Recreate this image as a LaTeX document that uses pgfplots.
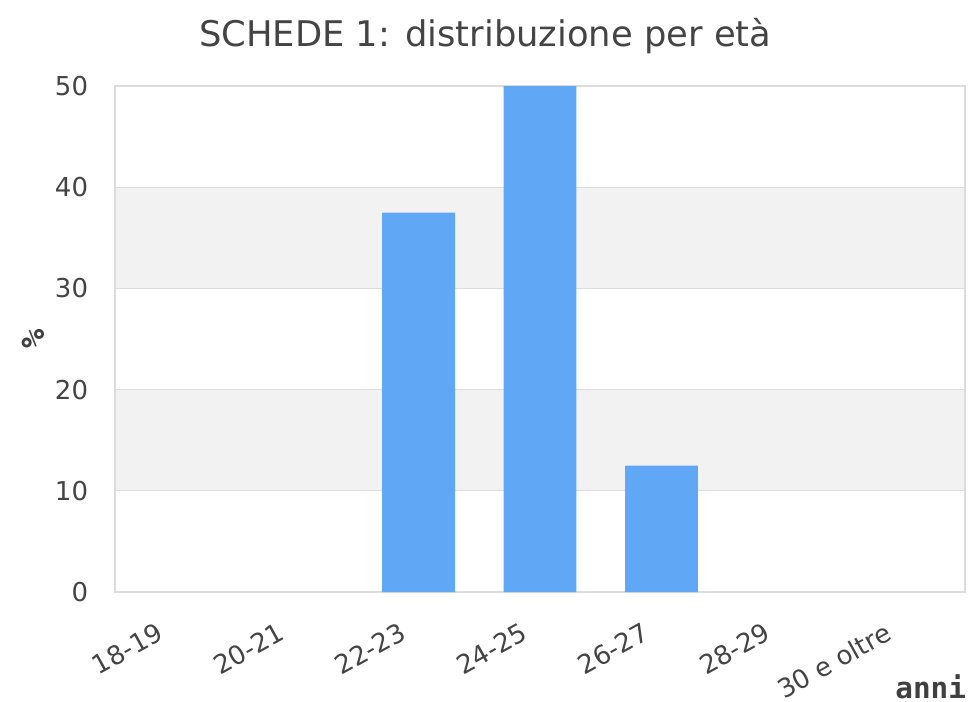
\documentclass[border=0pt]{standalone}
\usepackage{pgfplots}
\pgfplotsset{compat=1.18}
\usepackage{fontspec}
\setmainfont{DejaVu Sans}
\newfontfamily\monofont{DejaVu Sans Mono}
\definecolor{barblue}{HTML}{60A8F5}
\definecolor{band}{HTML}{F2F2F2}
\definecolor{gridc}{HTML}{DCDCDC}
\definecolor{txt}{HTML}{444444}
\begin{document}
\begin{tikzpicture}
\begin{axis}[
  set layers,
  at={(86.25pt,-444pt)}, anchor=south west,
  scale only axis, width=637.5pt, height=379.5pt,
  xmin=-0.5, xmax=6.5, ymin=0, ymax=50,
  xtick={0,1,2,3,4,5,6},
  xticklabels={18-19,20-21,22-23,24-25,26-27,28-29,30 e oltre},
  ytick={0,10,20,30,40,50},
  major tick length=0pt,
  ymajorgrids, grid style={gridc, line width=0.9pt},
  axis line style={gridc, line width=1.2pt},
  /pgf/number format/assume math mode=true,
  tick label style={font=\fontsize{19.5}{23}\selectfont, text=txt, inner sep=0pt},
  xticklabel style={xshift=-15pt, yshift=-22pt, rotate=29, anchor=north east},
  yticklabel style={anchor=east, xshift=-20pt},
  title={SCHEDE 1: distribuzione per età},
  title style={at={(0.5,1)}, anchor=base, xshift=-41pt, yshift=23.5pt, inner sep=0pt,
    font=\fontsize{26.5}{31}\selectfont, text=txt},
  xlabel={anni},
  xlabel style={at={(axis description cs:1,0)}, anchor=base east, yshift=-79.5pt, xshift=1pt, inner sep=0pt,
    font=\monofont\bfseries\fontsize{22}{26}\selectfont, text=black!75},
  ylabel={\%},
  ylabel style={at={(axis description cs:-0.0965,0.5)}, anchor=center, inner sep=0pt,
    font=\monofont\bfseries\fontsize{24}{28}\selectfont, text=black!75},
]
\begin{pgfonlayer}{axis background}
\fill[band] (axis cs:-0.5,10) rectangle (axis cs:6.5,20);
\fill[band] (axis cs:-0.5,30) rectangle (axis cs:6.5,40);
\end{pgfonlayer}
% categories 18-19, 20-21, 28-29, 30 e oltre are 0
\addplot[ybar, bar width=0.6, fill=barblue, draw=none]
  coordinates {(2,37.5) (3,50) (4,12.5)};
\end{axis}
\pgfresetboundingbox
\path[use as bounding box] (0,0) rectangle (726pt,-525.75pt);
\end{tikzpicture}
\end{document}
